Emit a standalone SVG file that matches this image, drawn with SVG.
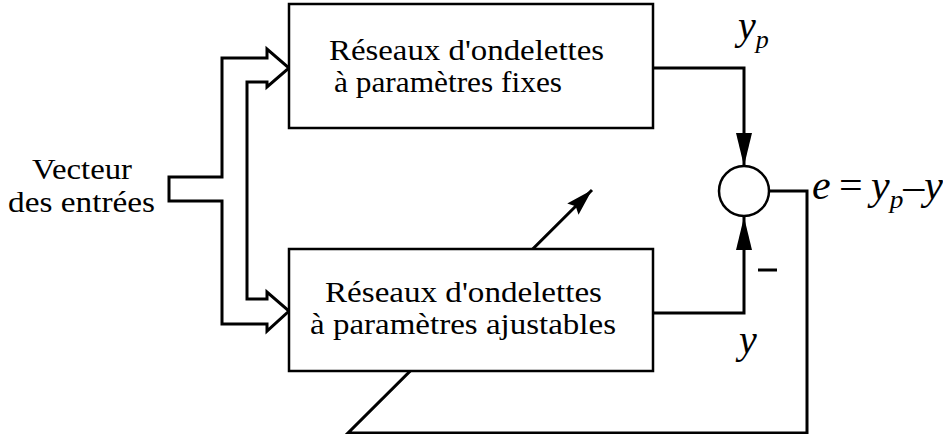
<svg xmlns="http://www.w3.org/2000/svg" width="943" height="434" viewBox="0 0 943 434">
  <style>
    .ln { fill: none; stroke: #000; stroke-width: 3; stroke-linejoin: miter; }
    .box { fill: #fff; stroke: #000; stroke-width: 2.5; }
    .lbl { font-family: 'Liberation Serif', 'Times New Roman', serif; font-size: 30px; fill: #000; }
    .math { font-family: 'Liberation Serif', 'Times New Roman', serif; font-style: italic; fill: #000; }
  </style>
  <defs>
    <marker id="headV" markerUnits="userSpaceOnUse" markerWidth="34" markerHeight="18" refX="33" refY="8" orient="auto">
      <path d="M0,0 L33,8 L0,16 Z" fill="#000"/>
    </marker>
    <marker id="headD" markerUnits="userSpaceOnUse" markerWidth="28" markerHeight="18" refX="27" refY="8" orient="auto">
      <path d="M0,0 L27,8 L0,16 L4,8 Z" fill="#000"/>
    </marker>
  </defs>

  <rect width="943" height="434" fill="#fff"/>

  <g id="connectors">
    <!-- input bus: splits into two hollow arrows -->
    <path class="ln" d="M267,58 H222 V177 H169 V201 H222 V324 H267 V331 L289,311 L267,292 V299 H247 V82 H267 V87 L289,68 L267,49 Z"/>
    <!-- fixed network output to summing node -->
    <path class="ln" d="M653,68 H744 V166" marker-end="url(#headV)"/>
    <!-- adjustable network output to summing node -->
    <path class="ln" d="M653,313 H744 V217" marker-end="url(#headV)"/>
    <!-- error feedback, drawn as the adjustment arrow through the lower block -->
    <path class="ln" d="M769,191 H807 V433 H348 L592,190" marker-end="url(#headD)"/>
    <!-- minus sign on the lower input -->
    <line class="ln" x1="758" y1="270" x2="777" y2="270"/>
  </g>

  <g id="sum">
    <circle class="box" cx="744" cy="191" r="25"/>
  </g>

  <g id="fixed-net">
    <rect class="box" x="289" y="4" width="364" height="124"/>
    <text class="lbl" x="329" y="60" textLength="275" lengthAdjust="spacingAndGlyphs">Réseaux d'ondelettes</text>
    <text class="lbl" x="334" y="92" textLength="228" lengthAdjust="spacingAndGlyphs">à paramètres fixes</text>
  </g>

  <g id="adjustable-net">
    <rect class="box" x="289" y="249" width="364" height="122"/>
    <text class="lbl" x="325" y="302" textLength="277" lengthAdjust="spacingAndGlyphs">Réseaux d'ondelettes</text>
    <text class="lbl" x="310" y="334" textLength="306" lengthAdjust="spacingAndGlyphs">à paramètres ajustables</text>
  </g>

  <g id="input">
    <text class="lbl" x="32" y="179" textLength="100" lengthAdjust="spacingAndGlyphs">Vecteur</text>
    <text class="lbl" x="8" y="212" textLength="147" lengthAdjust="spacingAndGlyphs">des entrées</text>
  </g>

  <g id="labels">
    <text class="math" x="738" y="39" font-size="40">y<tspan font-size="26" dy="9">p</tspan></text>
    <text class="math" x="739" y="353" font-size="40">y</text>
    <text class="math" x="812" y="199" font-size="40" textLength="131" lengthAdjust="spacingAndGlyphs">e<tspan font-style="normal" dx="8">=</tspan><tspan dx="8">y</tspan><tspan font-size="26" dy="9">p</tspan><tspan font-style="normal" dy="-9">–</tspan>y</text>
  </g>
</svg>
